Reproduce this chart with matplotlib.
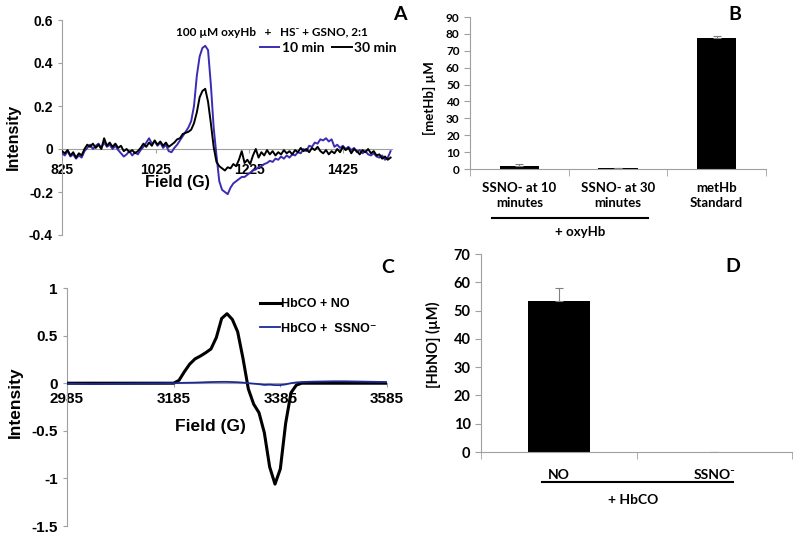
import matplotlib
matplotlib.use("Agg")
import matplotlib.pyplot as plt
from matplotlib.lines import Line2D
import numpy as np

W, H = 800, 537
ARIAL = ["Liberation Sans", "DejaVu Sans"]
CALIBRI = ["Lato", "DejaVu Sans"]
GREY = "#a0a0a0"

# ---- panel A: EPR of oxyHb + HS-/GSNO (field step 6 G from 825 G)
a_start, a_step = 825, 6
a_10min = [
    -0.02, -0.03, -0.01, -0.035, -0.025, -0.045, -0.03, -0.04, -0.01, 0.005,
    0.02, 0.0, 0.015, 0.025, 0.005, 0.03, 0.01, 0.02, 0.0, 0.015,
    -0.005, -0.02, -0.035, -0.025, -0.01, -0.03, -0.015, -0.025, -0.005, 0.01,
    0.03, 0.05, 0.025, 0.035, 0.015, 0.03, 0.005, 0.02, -0.01, -0.015,
    0.005, 0.02, 0.04, 0.06, 0.08, 0.1, 0.13, 0.2, 0.34, 0.43,
    0.47, 0.48, 0.46, 0.3, 0.1, -0.03, -0.15, -0.19, -0.2, -0.21,
    -0.18, -0.16, -0.15, -0.14, -0.13, -0.13, -0.12, -0.11, -0.1, -0.095,
    -0.085, -0.08, -0.07, -0.065, -0.055, -0.06, -0.045, -0.05, -0.035, -0.045,
    -0.03, -0.04, -0.025, -0.03, -0.015, -0.02, 0.0, -0.01, 0.015, 0.01,
    0.03, 0.025, 0.045, 0.04, 0.05, 0.035, 0.045, 0.01, 0.02, 0.005,
    0.015, 0.0, 0.01, -0.005, 0.005, -0.015, -0.005, -0.02, -0.01, -0.025,
    -0.03, -0.02, -0.035, -0.04, -0.03, -0.05, -0.04, -0.01,
]
a_30min = [
    -0.01, -0.02, -0.005, -0.03, -0.015, -0.04, -0.02, -0.03, 0.0, 0.02,
    0.01, 0.025, 0.005, 0.02, 0.0, 0.05, 0.015, 0.03, 0.01, 0.025,
    0.005, 0.015, -0.01, 0.0, -0.015, -0.005, -0.02, -0.01, 0.005, 0.025,
    0.01, 0.03, 0.015, 0.04, 0.02, 0.035, 0.015, 0.03, 0.01, 0.02,
    0.03, 0.045, 0.05, 0.07, 0.075, 0.08, 0.09, 0.12, 0.17, 0.24,
    0.27, 0.28, 0.22, 0.12, 0.01, -0.06, -0.08, -0.09, -0.1, -0.085,
    -0.09, -0.07, -0.08, -0.05, -0.01, -0.065, -0.05, -0.07, -0.03, 0.0,
    -0.04, -0.015, -0.03, -0.005, -0.025, -0.01, -0.03, -0.015, -0.025, -0.005,
    -0.02, -0.01, -0.025, -0.005, -0.015, 0.005, -0.01, 0.0, -0.015, 0.005,
    -0.005, 0.01, -0.01, -0.02, -0.005, -0.025, -0.01, -0.02, 0.0, -0.015,
    0.01, -0.005, 0.005, -0.02, 0.0, -0.01, -0.025, -0.005, -0.015, 0.0,
    -0.02, -0.01, -0.03, -0.025, -0.045, -0.035, -0.05, -0.04,
]
a_xticks = [825, 1025, 1225, 1425]
a_yticks = [-0.4, -0.2, 0, 0.2, 0.4, 0.6]
a_ylabels = ["-0.4", "-0.2", "0", "0.2", "0.4", "0.6"]

# ---- panel B: metHb formed
b_labels = ["SSNO- at 10\nminutes", "SSNO- at 30\nminutes", "metHb\nStandard"]
b_values = [1.5, 0.4, 77.5]
b_err = [1.2, 0.4, 1.5]

# ---- panel C: EPR of HbCO (field step 10 G from 2985 G)
c_start, c_step = 2985, 10
c_no = [
    0.0, 0.0, 0.0, 0.0, 0.0, 0.0, 0.0, 0.0, 0.0, 0.0,
    0.0, 0.0, 0.0, 0.0, 0.0, 0.0, 0.0, 0.0, 0.0, 0.0, 0.0,
    0.03, 0.12, 0.2, 0.255, 0.285, 0.32, 0.36, 0.48, 0.68, 0.73,
    0.67, 0.54, 0.26, -0.06, -0.22, -0.31, -0.52, -0.88, -1.06, -0.9,
    -0.42, -0.1, -0.02, 0.0,
    0.0, 0.0, 0.0, 0.0, 0.0, 0.0, 0.0, 0.0, 0.0, 0.0,
    0.0, 0.0, 0.0, 0.0, 0.0, 0.0,
]
c_ssno = [
    -0.005, -0.005, -0.006, -0.007, -0.008, -0.008, -0.008, -0.007, -0.007, -0.006,
    -0.005, -0.005, -0.004, -0.004, -0.003, -0.003, -0.002, -0.002, -0.001, 0.0, 0.0,
    0.002, 0.004, 0.005, 0.006, 0.008, 0.01, 0.012, 0.013, 0.014, 0.014,
    0.012, 0.01, 0.006, 0.0, -0.005, -0.01, -0.018, -0.015, -0.02, -0.02,
    -0.012, 0.0, 0.008, 0.012,
    0.014, 0.016, 0.017, 0.018, 0.019, 0.02, 0.02, 0.02, 0.019, 0.018,
    0.017, 0.016, 0.015, 0.014, 0.013, 0.012,
]
c_xticks = [2985, 3185, 3385, 3585]
c_yticks = [-1.5, -1, -0.5, 0, 0.5, 1]
c_ylabels = ["-1.5", "-1", "-0.5", "0", "0.5", "1"]

# ---- panel D: HbNO formed
d_labels = ["NO", "SSNO\u207b"]
d_values = [53.3, 0.0]
d_err = [4.7, 0.0]

plt.rcParams["font.family"] = ARIAL
plt.rcParams["font.weight"] = "bold"


def rect(x0, y0, x1, y1):
    return [x0 / W, 1 - y1 / H, (x1 - x0) / W, (y1 - y0) / H]


def ftext(x, y, s, **kw):
    kw.setdefault("ha", "center")
    kw.setdefault("va", "center")
    fig.text(x / W, 1 - y / H, s, **kw)


def fline(x0, x1, y, **kw):
    fig.add_artist(Line2D([x0 / W, x1 / W], [1 - y / H, 1 - y / H], **kw))


def epr_style(ax, xticks, yticks, ylabels, size, pad):
    for s in ("top", "right"):
        ax.spines[s].set_visible(False)
    ax.spines["left"].set_color(GREY)
    ax.spines["bottom"].set_position(("data", 0))
    ax.spines["bottom"].set_color(GREY)
    ax.set_xticks(xticks, [str(v) for v in xticks], fontsize=size)
    ax.set_yticks(yticks, ylabels, fontsize=size)
    ax.tick_params(colors=GREY, labelcolor="black", length=3, width=0.8)
    ax.tick_params(axis="x", pad=pad)


def bar_style(ax, n, labels, yticks, tsize, lsize, pad):
    for s in ("top", "right"):
        ax.spines[s].set_visible(False)
    for s in ("left", "bottom"):
        ax.spines[s].set_color(GREY)
    ax.set_xlim(-0.5, n - 0.5)
    ax.set_xticks(range(n), labels, fontsize=lsize, family=CALIBRI, linespacing=1.3)
    ax.set_xticks(np.arange(n + 1) - 0.5, minor=True)
    ax.set_yticks(yticks, [str(v) for v in yticks], fontsize=tsize, family=CALIBRI)
    ax.tick_params(axis="x", which="major", length=0, pad=pad)
    ax.tick_params(axis="x", which="minor", length=5, color=GREY)
    ax.tick_params(axis="y", length=4, color=GREY)


fig = plt.figure(figsize=(W / 100, H / 100), dpi=100)

# A
axA = fig.add_axes(rect(62, 20, 392, 235))
a_field = a_start + a_step * np.arange(len(a_10min))
l10, = axA.plot(a_field, a_10min, color="#3b2db3", lw=1.4, zorder=3)
l30, = axA.plot(a_field, a_30min, color="black", lw=1.4, zorder=3.5)
axA.set_xlim(825, 1530)
axA.set_ylim(-0.4, 0.6)
epr_style(axA, a_xticks, a_yticks, a_ylabels, 10, 7)
axA.legend([l10, l30], ["10 min", "30 min"], ncol=2, frameon=False,
           loc="upper left", bbox_to_anchor=(260 / W, 1 - 42 / H),
           bbox_transform=fig.transFigure, borderpad=0, borderaxespad=0,
           handlelength=1.4, handletextpad=0.15, columnspacing=0.6,
           prop={"family": CALIBRI, "weight": "bold", "size": 10})
ftext(272, 33, "100 \u00b5M oxyHb   +   HS\u207b + GSNO, 2:1",
      family=CALIBRI, fontsize=8.5)
ftext(177, 183, "Field (G)", fontsize=11.5)
ftext(13, 137, "Intensity", fontsize=11.5, rotation=90)

# B
axB = fig.add_axes(rect(470, 17, 766, 169))
axB.bar(range(3), b_values, width=0.4, color="black",
        yerr=[np.zeros(3), b_err], ecolor="#808080", capsize=3,
        error_kw={"elinewidth": 0.8, "capthick": 0.8})
axB.set_ylim(0, 90)
bar_style(axB, 3, b_labels, list(range(0, 91, 10)), 8.5, 9.5, 9)
fline(492, 648, 218, color="black", lw=1.5)
ftext(580, 232, "+ oxyHb", family=CALIBRI, fontsize=9.5)
ftext(429, 98, "[metHb] \u00b5M", family=CALIBRI, fontsize=9.5, rotation=90)

# C
axC = fig.add_axes(rect(67, 288, 387, 526))
c_field = c_start + c_step * np.arange(len(c_no))
ln, = axC.plot(c_field, c_no, color="black", lw=2.2, zorder=3)
ls, = axC.plot(c_field, c_ssno, color="#1b2a94", lw=1.3, zorder=3.5)
axC.set_xlim(2985, 3585)
axC.set_ylim(-1.5, 1)
epr_style(axC, c_xticks, c_yticks, c_ylabels, 11, 3)
axC.legend([ln, ls], ["HbCO + NO", "HbCO +  SSNO\u207b"], frameon=False,
           loc="upper left", bbox_to_anchor=(260 / W, 1 - 298 / H),
           bbox_transform=fig.transFigure, borderpad=0, borderaxespad=0,
           handlelength=1.6, handletextpad=0.1, labelspacing=1.0,
           prop={"family": ARIAL, "weight": "bold", "size": 9})
ftext(210, 427, "Field (G)", fontsize=12.5)
ftext(15, 402, "Intensity", fontsize=12.5, rotation=90)

# D
axD = fig.add_axes(rect(481, 254, 792, 452))
axD.bar(range(2), d_values, width=0.4, color="black",
        yerr=[np.zeros(2), d_err], ecolor="#808080", capsize=3,
        error_kw={"elinewidth": 0.8, "capthick": 0.8})
axD.set_ylim(0, 70)
bar_style(axD, 2, d_labels, list(range(0, 71, 10)), 10.5, 10, 12)
fline(542, 733, 482, color="black", lw=1.5)
ftext(633, 500, "+ HbCO", family=CALIBRI, fontsize=10)
ftext(433, 345, "[HbNO] (\u00b5M)", family=CALIBRI, fontsize=10.5, rotation=90)

# panel letters
for x, y, s in [(400, 15, "A"), (735, 15, "B"), (388, 268, "C"), (733, 266, "D")]:
    ftext(x, y, s, family=CALIBRI, fontsize=14)

fig.savefig("out.png", dpi=100)
